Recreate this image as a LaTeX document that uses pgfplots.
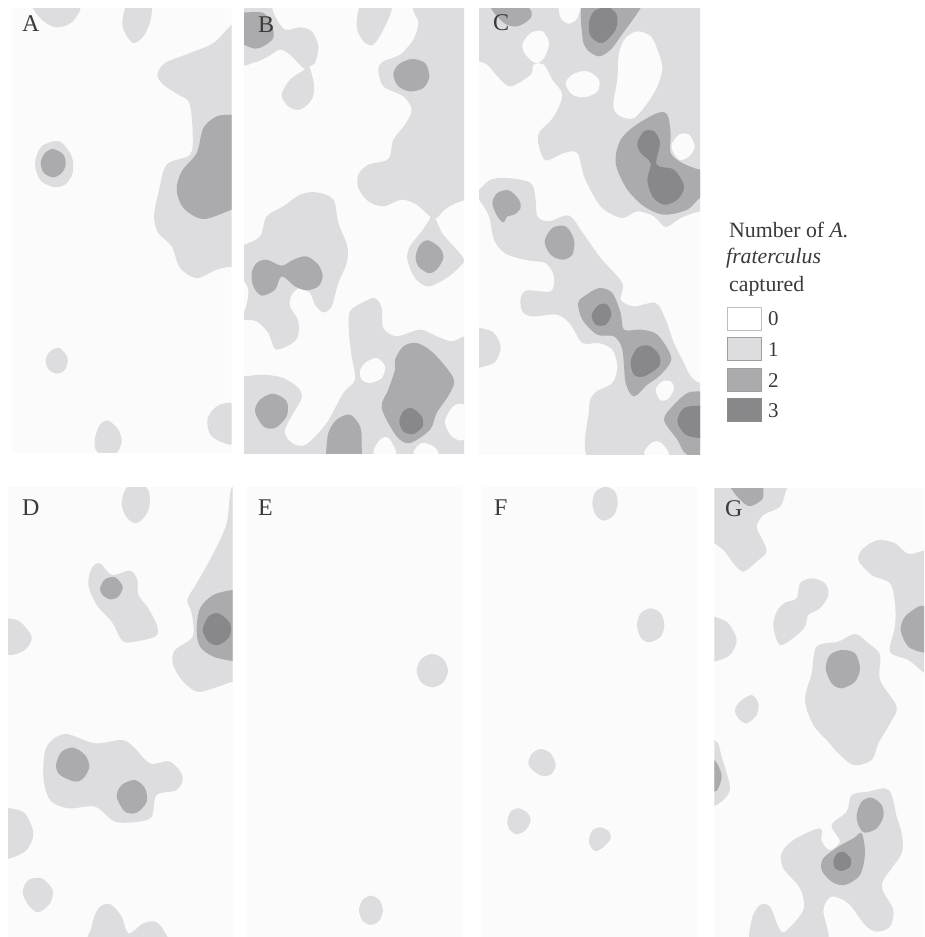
\documentclass[border=0pt]{standalone}
\usepackage{pgfplots}
\pgfplotsset{compat=1.18}
\usepackage{fontspec}
\setmainfont{Liberation Serif}
\definecolor{bgz}{HTML}{FBFBFB}
\definecolor{lvA}{HTML}{DDDDDF}
\definecolor{lvB}{HTML}{ABABAE}
\definecolor{lvC}{HTML}{88888B}
\definecolor{txt}{HTML}{3A3A3A}
\pgfplotsset{
  panel/.style={anchor=north west,scale only axis,enlargelimits=false,hide axis,y dir=reverse,clip=true},
  blob/.style={draw=none,smooth cycle,tension=0.52,mark=none,forget plot},
}
\newcommand{\BG}{\addplot[fill=bgz,draw=none,mark=none,forget plot] coordinates {(-100,-100)(1000,-100)(1000,1500)(-100,1500)} -- cycle;}
\newcommand{\LA}[1]{\addplot[blob,fill=lvA] coordinates {#1};}
\newcommand{\LB}[1]{\addplot[blob,fill=lvB] coordinates {#1};}
\newcommand{\LC}[1]{\addplot[blob,fill=lvC] coordinates {#1};}
\newcommand{\HO}[1]{\addplot[blob,fill=bgz] coordinates {#1};}
\begin{document}
\begin{tikzpicture}
\path[use as bounding box,fill=white] (0,0) rectangle (924pt,-937pt);
% A
\begin{axis}[panel,at={(12pt,-8pt)},width=219.7pt,height=444pt,xmin=36,xmax=695,ymin=25,ymax=1357]
\BG
\LA{(95,10)(125,60)(170,83)(215,68)(240,20)(170,0)}
\LA{(367,65)(385,10)(450,10)(452,60)(430,110)(400,130)(375,100)}
\LA{(695,75)(720,60)(720,820)(695,802)(650,810)(590,835)(540,805)(515,740)(475,700)(462,650)(475,580)(500,495)(570,465)(578,400)(568,310)(535,285)(490,255)(472,225)(495,190)(570,160)(640,130)}
\LA{(105,490)(125,440)(178,425)(215,470)(218,520)(195,555)(160,562)(120,540)}
\LA{(137,1080)(150,1055)(178,1045)(203,1075)(195,1110)(170,1122)(145,1108)}
\LA{(284,1320)(300,1275)(325,1263)(355,1290)(365,1325)(350,1360)(320,1365)(290,1355)}
\LA{(695,1210)(650,1220)(622,1260)(635,1310)(695,1335)(730,1300)(730,1240)}
\LB{(695,345)(650,350)(610,385)(590,460)(545,515)(530,570)(550,625)(610,658)(695,630)(730,620)(730,340)}
\LB{(122,490)(135,460)(160,448)(190,465)(197,495)(185,520)(160,533)(132,520)}
\end{axis}
% B
\begin{axis}[panel,at={(244pt,-8pt)},width=220pt,height=445pt,xmin=12,xmax=672,ymin=25,ymax=1360]
\BG
\LA{(-10,0)(80,0)(105,50)(135,90)(180,83)(215,95)(235,140)(225,190)(205,200)(190,205)(150,165)(120,150)(85,170)(45,188)(-10,185)}
\LA{(205,195)(222,255)(215,300)(180,330)(145,320)(125,285)(150,240)(190,212)}
\LA{(350,70)(360,20)(400,5)(455,20)(430,90)(400,135)(375,130)(355,100)}
\LA{(528,10)(535,70)(520,120)(480,165)(430,185)(415,210)(430,260)(490,290)(515,330)(495,375)(460,420)(445,478)(385,495)(355,525)(355,565)(385,605)(430,620)(485,600)(530,615)(570,650)(590,655)(620,625)(672,602)(720,600)(720,0)}
\LA{(578,640)(590,665)(610,705)(670,775)(660,800)(620,835)(565,860)(525,835)(502,780)(510,740)(545,695)(568,660)}
\LA{(-20,735)(12,735)(60,710)(80,650)(130,620)(180,585)(230,578)(280,600)(295,670)(322,740)(320,790)(295,850)(275,920)(250,938)(225,915)(210,880)(180,865)(155,885)(150,920)(175,965)(172,1015)(140,1040)(105,1048)(85,1000)(50,965)(12,960)(-20,950)}
\HO{(-5,830)(25,870)(12,935)(-10,900)}
\LA{(-20,1130)(12,1130)(70,1125)(130,1135)(175,1165)(185,1195)(160,1240)(135,1290)(145,1320)(175,1338)(205,1330)(260,1270)(310,1180)(345,1140)(335,1070)(327,1000)(330,935)(375,905)(405,895)(425,925)(430,985)(470,1010)(540,990)(590,1010)(635,1025)(672,1010)(720,1000)(720,1400)(-20,1400)}
\HO{(360,1115)(375,1090)(410,1075)(435,1100)(425,1135)(390,1150)(365,1140)}
\HO{(615,1265)(640,1220)(672,1215)(700,1260)(672,1320)(635,1310)}
\HO{(400,1360)(420,1320)(445,1315)(468,1360)(435,1390)}
\HO{(520,1360)(545,1330)(580,1340)(595,1365)(550,1390)}
\LB{(-10,35)(12,38)(70,40)(95,75)(100,115)(70,140)(45,147)(12,135)(-10,120)}
\LB{(460,225)(475,195)(515,178)(555,190)(568,230)(550,265)(510,275)(475,260)}
\LB{(527,770)(540,735)(565,722)(600,745)(610,775)(590,810)(565,820)(535,800)}
\LB{(35,820)(50,790)(80,780)(125,798)(160,780)(200,770)(235,795)(248,830)(235,860)(200,872)(165,860)(125,830)(105,870)(65,888)(40,860)}
\LB{(465,1080)(490,1040)(530,1030)(580,1060)(640,1135)(630,1180)(590,1240)(570,1290)(510,1330)(470,1310)(425,1225)(445,1170)(465,1110)}
\LB{(45,1235)(60,1200)(100,1182)(140,1205)(140,1250)(105,1285)(70,1280)}
\LB{(258,1365)(265,1300)(290,1260)(330,1245)(360,1280)(365,1330)(355,1400)(258,1400)}
\LC{(478,1265)(490,1235)(515,1225)(545,1250)(548,1280)(520,1303)(490,1295)}
\end{axis}
% C
\begin{axis}[panel,at={(479pt,-8pt)},width=221pt,height=446.7pt,xmin=15,xmax=678,ymin=25,ymax=1365]
\BG
\LA{(-20,0)(720,0)(720,640)(678,635)(620,655)(575,682)(540,650)(490,635)(445,655)(390,630)(360,590)(330,530)(310,460)(270,460)(215,482)(195,440)(195,400)(240,350)(265,285)(235,240)(210,195)(178,195)(170,225)(110,260)(75,235)(40,195)(15,185)(-20,170)}
\HO{(145,135)(170,100)(205,95)(225,130)(210,175)(185,190)(155,165)}
\HO{(255,10)(260,55)(285,72)(310,55)(318,10)(285,-10)}
\HO{(275,250)(300,222)(340,215)(375,240)(370,275)(335,292)(295,285)}
\HO{(455,115)(490,95)(530,110)(550,150)(565,205)(550,260)(520,310)(480,355)(440,350)(418,320)(430,240)(435,160)}
\HO{(592,440)(615,405)(645,405)(662,440)(645,470)(615,480)}
\LA{(15,570)(50,540)(100,535)(170,550)(185,600)(190,650)(225,665)(285,648)(330,705)(380,775)(445,850)(440,900)(480,920)(545,910)(575,960)(600,1030)(630,1090)(650,1130)(678,1150)(720,1150)(720,1400)(362,1400)(345,1230)(362,1180)(415,1150)(430,1100)(415,1050)(375,1030)(325,1030)(290,975)(250,945)(175,950)(145,935)(140,895)(160,872)(230,875)(240,830)(215,790)(160,782)(95,762)(60,720)(45,650)(15,600)(-10,590)}
\HO{(545,1170)(565,1145)(590,1145)(600,1165)(585,1195)(560,1202)}
\HO{(510,1360)(535,1328)(560,1328)(585,1365)(545,1390)}
\LA{(-10,988)(30,988)(60,1000)(80,1040)(65,1085)(30,1100)(-10,1100)}
\LB{(50,20)(90,70)(130,80)(170,55)(165,25)(100,0)}
\LB{(335,0)(325,110)(340,150)(375,170)(410,150)(440,110)(500,25)(500,0)}
\LB{(425,470)(440,420)(480,380)(550,340)(580,345)(590,400)(590,460)(625,490)(678,510)(720,510)(720,590)(678,595)(640,630)(570,645)(510,620)(460,570)(430,510)}
\LB{(55,610)(70,580)(105,572)(135,600)(140,625)(120,645)(100,650)(88,668)(70,650)}
\LB{(212,725)(235,685)(275,680)(300,720)(295,765)(265,780)(230,765)}
\LB{(312,910)(330,890)(375,865)(415,880)(440,940)(450,990)(500,990)(550,1005)(592,1075)(560,1125)(520,1155)(480,1190)(455,1150)(445,1050)(420,1010)(370,1005)(325,960)}
\LB{(570,1260)(600,1215)(640,1180)(678,1175)(720,1175)(720,1365)(640,1365)(610,1320)}
\LC{(345,70)(360,35)(400,22)(428,45)(425,90)(385,130)(350,110)}
\LC{(490,430)(510,395)(540,395)(558,430)(548,495)(600,510)(630,560)(610,600)(570,615)(535,590)(520,540)(530,490)(500,460)}
\LC{(353,945)(375,915)(400,915)(412,945)(395,975)(365,975)}
\LC{(470,1085)(490,1045)(525,1038)(555,1065)(555,1100)(510,1130)(480,1125)}
\LC{(610,1265)(630,1225)(678,1218)(720,1220)(720,1315)(678,1315)(635,1305)}
\end{axis}
% D
\begin{axis}[panel,at={(8pt,-487.3pt)},width=224.7pt,height=449.7pt,xmin=24,xmax=698,ymin=22,ymax=1371]
\BG
\LA{(365,70)(378,25)(410,10)(445,30)(448,80)(430,115)(405,130)(378,110)}
\LA{(265,315)(275,265)(300,250)(335,285)(390,272)(412,300)(415,345)(445,385)(472,440)(465,470)(390,487)(365,480)(335,425)(290,375)}
\LA{(695,22)(680,130)(640,220)(590,310)(562,360)(575,400)(578,470)(525,510)(518,550)(545,600)(590,635)(640,625)(698,605)(740,600)(740,20)}
\LA{(-10,415)(24,415)(60,425)(95,470)(80,505)(50,522)(24,525)(-10,525)}
\LA{(130,890)(140,800)(195,762)(285,790)(365,780)(400,800)(450,850)(510,845)(548,890)(530,930)(470,945)(455,1010)(415,1025)(345,1025)(285,980)(205,985)(150,960)}
\LA{(-10,985)(30,985)(75,1000)(100,1060)(80,1110)(30,1135)(-10,1135)}
\LA{(68,1235)(85,1200)(125,1195)(158,1230)(150,1270)(115,1297)(85,1275)}
\LA{(275,1340)(295,1285)(330,1272)(365,1310)(385,1360)(430,1330)(465,1325)(490,1350)(495,1400)(275,1400)}
\LB{(300,325)(315,298)(345,292)(368,320)(355,350)(330,358)(308,345)}
\LB{(590,450)(600,385)(640,345)(698,330)(740,330)(740,545)(698,543)(640,530)(600,500)}
\LB{(168,855)(185,815)(220,803)(255,825)(268,860)(250,895)(225,905)(180,885)}
\LB{(350,950)(365,915)(405,900)(435,925)(440,965)(410,998)(375,995)}
\LC{(608,450)(625,410)(655,400)(690,430)(688,470)(655,495)(625,485)}
\end{axis}
% E
\begin{axis}[panel,at={(247.3pt,-487.3pt)},width=215.3pt,height=449.7pt,xmin=22,xmax=668,ymin=22,ymax=1371]
\BG
\LA{(530,572)(544,537)(577,522)(610,537)(624,572)(610,607)(577,622)(544,607)}
\LA{(357,1291)(368,1260)(393,1247)(418,1260)(429,1291)(418,1322)(393,1335)(368,1322)}
\end{axis}
% F
\begin{axis}[panel,at={(481.3pt,-487.3pt)},width=216.7pt,height=449.7pt,xmin=22,xmax=672,ymin=22,ymax=1371]
\BG
\LA{(355,70)(365,35)(395,20)(423,35)(431,70)(420,105)(390,122)(365,105)}
\LA{(489,435)(500,400)(530,385)(560,400)(571,435)(560,470)(525,487)(500,472)}
\LA{(163,848)(175,820)(200,807)(230,820)(245,855)(232,882)(205,888)(175,870)}
\LA{(100,1025)(110,995)(135,985)(162,1000)(170,1022)(155,1050)(128,1063)(108,1050)}
\LA{(345,1080)(355,1052)(380,1042)(405,1055)(410,1075)(390,1100)(365,1114)(350,1100)}
\end{axis}
% G
\begin{axis}[panel,at={(714.3pt,-488.3pt)},width=209.7pt,height=448.7pt,xmin=28,xmax=657,ymin=25,ymax=1371]
\BG
\LA{(-10,0)(243,0)(243,30)(225,80)(175,105)(155,140)(170,175)(185,215)(155,245)(115,275)(85,250)(60,215)(28,190)(-10,175)}
\LA{(460,240)(475,205)(520,180)(570,190)(610,222)(657,212)(700,210)(700,600)(657,578)(610,540)(555,515)(570,440)(570,370)(555,310)(500,285)}
\LA{(205,440)(215,395)(240,368)(275,355)(285,310)(320,295)(360,310)(370,345)(345,385)(310,405)(300,440)(270,470)(225,495)}
\LA{(-10,410)(28,410)(70,430)(95,480)(75,525)(28,545)(-10,545)}
\LA{(300,660)(320,580)(335,500)(400,485)(450,462)(490,490)(525,525)(525,600)(575,680)(555,730)(520,790)(500,840)(445,855)(390,810)(370,785)(325,735)}
\LA{(90,690)(105,665)(140,645)(160,670)(155,705)(125,730)(100,715)}
\LA{(-10,785)(35,785)(50,830)(75,920)(60,955)(28,978)(-10,980)}
\LA{(440,945)(490,935)(540,925)(560,945)(575,1010)(590,1060)(590,1120)(535,1200)(535,1235)(565,1290)(555,1340)(515,1355)(480,1335)(430,1270)(380,1250)(355,1290)(360,1400)(150,1400)(140,1320)(165,1275)(195,1280)(220,1340)(240,1355)(295,1290)(285,1225)(235,1165)(230,1120)(265,1080)(345,1045)(350,1085)(375,1110)(405,1085)(380,1035)(425,995)}
\LB{(75,0)(85,35)(130,78)(170,60)(175,40)(165,0)}
\LB{(587,450)(600,410)(640,380)(657,378)(700,378)(700,518)(657,518)(610,500)}
\LB{(362,565)(375,525)(410,510)(450,520)(465,565)(450,605)(410,625)(380,610)}
\LB{(-10,840)(28,840)(50,885)(40,925)(28,935)(-10,935)}
\LB{(455,1005)(470,965)(500,953)(530,975)(535,1010)(515,1045)(480,1058)(462,1040)}
\LB{(470,1060)(480,1120)(465,1185)(420,1215)(380,1205)(350,1170)(355,1135)(400,1100)(445,1075)}
\LC{(385,1145)(395,1122)(415,1115)(437,1135)(435,1160)(410,1173)(390,1165)}
\end{axis}
% legend and letters
\begin{axis}[panel,at={(0pt,0pt)},width=924pt,height=937pt,xmin=0,xmax=924,ymin=0,ymax=937,clip=false]
\addplot[fill=white,draw=black!25,line width=1pt,mark=none,forget plot] coordinates {(727.5,307.5)(761.5,307.5)(761.5,330.5)(727.5,330.5)} -- cycle;
\addplot[fill=lvA,draw=black!38,line width=1pt,mark=none,forget plot] coordinates {(727.5,337.5)(761.5,337.5)(761.5,360.5)(727.5,360.5)} -- cycle;
\addplot[fill=lvB,draw=black!38,line width=0.6pt,mark=none,forget plot] coordinates {(727.5,368)(761.5,368)(761.5,391)(727.5,391)} -- cycle;
\addplot[fill=lvC,draw=black!45,line width=0.6pt,mark=none,forget plot] coordinates {(727.5,398)(761.5,398)(761.5,421)(727.5,421)} -- cycle;
\node[anchor=base west,inner sep=0pt,text=txt] at (axis cs:729,237) {\fontsize{21.8}{24}\selectfont Number of \textit{A.}};
\node[anchor=base west,inner sep=0pt,text=txt] at (axis cs:726,263) {\fontsize{21.8}{24}\selectfont \textit{fraterculus}};
\node[anchor=base west,inner sep=0pt,text=txt] at (axis cs:729,291) {\fontsize{21.8}{24}\selectfont captured};
\node[anchor=base west,inner sep=0pt,text=txt] at (axis cs:768,325) {\fontsize{21}{24}\selectfont 0};
\node[anchor=base west,inner sep=0pt,text=txt] at (axis cs:768,356) {\fontsize{21}{24}\selectfont 1};
\node[anchor=base west,inner sep=0pt,text=txt] at (axis cs:768,387) {\fontsize{21}{24}\selectfont 2};
\node[anchor=base west,inner sep=0pt,text=txt] at (axis cs:768,417) {\fontsize{21}{24}\selectfont 3};
\node[anchor=base west,inner sep=0pt,text=txt] at (axis cs:22,31) {\fontsize{24}{28}\selectfont A};
\node[anchor=base west,inner sep=0pt,text=txt] at (axis cs:258,32) {\fontsize{24}{28}\selectfont B};
\node[anchor=base west,inner sep=0pt,text=txt] at (axis cs:493,30) {\fontsize{24}{28}\selectfont C};
\node[anchor=base west,inner sep=0pt,text=txt] at (axis cs:22,515) {\fontsize{24}{28}\selectfont D};
\node[anchor=base west,inner sep=0pt,text=txt] at (axis cs:258,515) {\fontsize{24}{28}\selectfont E};
\node[anchor=base west,inner sep=0pt,text=txt] at (axis cs:494,515) {\fontsize{24}{28}\selectfont F};
\node[anchor=base west,inner sep=0pt,text=txt] at (axis cs:725,516) {\fontsize{24}{28}\selectfont G};
\end{axis}
\end{tikzpicture}
\end{document}
